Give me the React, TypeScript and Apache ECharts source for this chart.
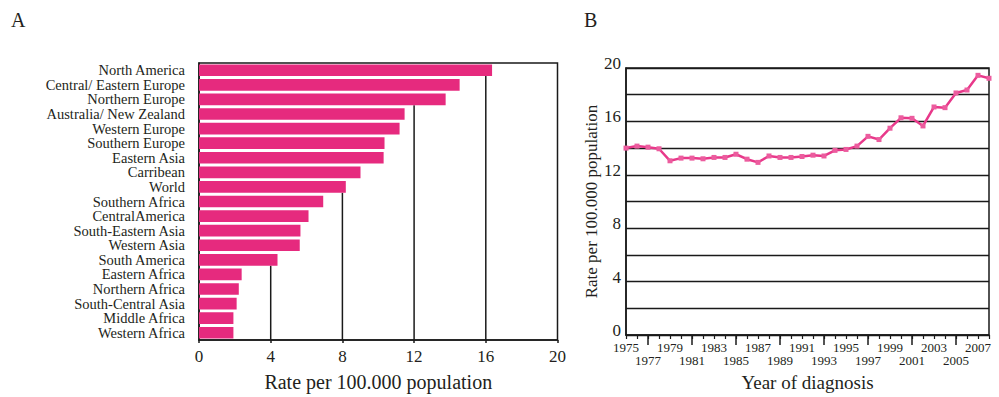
import React, { useEffect, useRef } from "react";
import * as echarts from "echarts";

// Panel A
const regions = [
  "North America", "Central/ Eastern Europe", "Northern Europe", "Australia/ New Zealand",
  "Western Europe", "Southern Europe", "Eastern Asia", "Carribean", "World",
  "Southern Africa", "CentralAmerica", "South-Eastern Asia", "Western Asia", "South America",
  "Eastern Africa", "Northern Africa", "South-Central Asia", "Middle Africa", "Western Africa",
];
const rates = [
  16.35, 14.54, 13.76, 11.47, 11.19, 10.35, 10.3, 9.01, 8.19,
  6.93, 6.11, 5.66, 5.62, 4.38, 2.38, 2.22, 2.1, 1.92, 1.92,
];
const rateTicks = [4, 8, 12, 16];

// Panel B
const years = [
  1975, 1976, 1977, 1978, 1979, 1980, 1981, 1982, 1983, 1984, 1985, 1986, 1987, 1988, 1989, 1990, 1991,
  1992, 1993, 1994, 1995, 1996, 1997, 1998, 1999, 2000, 2001, 2002, 2003, 2004, 2005, 2006, 2007, 2008,
];
const yearRates = [
  14.0, 14.15, 14.07, 13.95, 13.05, 13.25, 13.25, 13.2, 13.3, 13.3, 13.54, 13.17, 12.93, 13.41, 13.3, 13.3, 13.37,
  13.47, 13.41, 13.83, 13.9, 14.15, 14.88, 14.64, 15.49, 16.27, 16.23, 15.66, 17.08, 17.03, 18.13, 18.35, 19.45, 19.23,
];

const FONT = "Liberation Serif";
const TXT = "#231F20";
const LINE = "#1a1a1a";

export default function App() {
  const ref = useRef<HTMLDivElement>(null);
  useEffect(() => {
    if (!ref.current) return;
    const chart = echarts.init(ref.current, null, { renderer: "svg" });
    // gridline segments: from below the last bar exceeding the tick down to the axis
    const gridSegs = rateTicks.map((t) => {
      let idx = -1;
      rates.forEach((r, i) => { if (r > t) idx = i; });
      return [t, idx];
    });
    const yearLabels = years.map(String);
    chart.setOption({
      animation: false,
      backgroundColor: "#fff",
      textStyle: { fontFamily: FONT, color: TXT },
      graphic: [
        { type: "text", left: 11, top: 10, style: { text: "A", font: `20px ${FONT}`, fill: TXT } },
        { type: "text", left: 584, top: 10, style: { text: "B", font: `20px ${FONT}`, fill: TXT } },
      ],
      grid: [
        { left: 199, right: 441.5, top: 63, bottom: 52, show: true, borderColor: LINE, borderWidth: 1.5, backgroundColor: "transparent" },
        { left: 626, right: 10, top: 68, bottom: 58, show: true, borderColor: LINE, borderWidth: 1.5, backgroundColor: "transparent" },
      ],
      xAxis: [
        {
          type: "value", gridIndex: 0, min: 0, max: 20, interval: 4,
          axisLine: { show: true, lineStyle: { color: LINE, width: 1.5 } },
          axisTick: { show: true, length: 3, lineStyle: { color: LINE, width: 1.5 } },
          splitLine: { show: false },
          axisLabel: { fontFamily: FONT, fontSize: 17, color: TXT, margin: 8 },
          name: "Rate per 100.000 population", nameLocation: "middle", nameGap: 32,
          nameTextStyle: { fontFamily: FONT, fontSize: 20, color: TXT },
        },
        {
          type: "category", gridIndex: 1, data: yearLabels, boundaryGap: false, position: "bottom",
          axisLine: { show: true, lineStyle: { color: LINE, width: 1.5 } },
          axisTick: { show: true, length: 4, interval: 0, lineStyle: { color: LINE, width: 1.2 } },
          axisLabel: {
            fontFamily: FONT, fontSize: 13, lineHeight: 13, color: TXT, margin: 6,
            interval: (i: number) => i % 4 === 0,
          },
          name: "Year of diagnosis", nameLocation: "middle", nameGap: 38,
          nameTextStyle: { fontFamily: FONT, fontSize: 19, color: TXT },
        },
        {
          type: "category", gridIndex: 1, data: yearLabels, boundaryGap: false, position: "bottom",
          axisLine: { show: false },
          axisTick: { show: true, length: 10, interval: (i: number) => i % 4 === 2, lineStyle: { color: LINE, width: 1.5 } },
          axisLabel: {
            fontFamily: FONT, fontSize: 13, lineHeight: 13, color: TXT, margin: 19,
            interval: (i: number) => i % 4 === 2,
          },
        },
      ],
      yAxis: [
        {
          type: "category", gridIndex: 0, data: regions, inverse: true,
          axisLine: { show: true, lineStyle: { color: LINE, width: 1.5 } },
          axisTick: { show: false },
          axisLabel: { fontFamily: FONT, fontSize: 14.5, color: TXT, margin: 14, lineHeight: 14.5, interval: 0 },
        },
        {
          type: "value", gridIndex: 1, min: 0, max: 20, interval: 2,
          axisLine: { show: true, lineStyle: { color: LINE, width: 1.5 } },
          axisTick: { show: false },
          splitLine: { show: true, lineStyle: { color: LINE, width: 1.3 } },
          axisLabel: {
            fontFamily: FONT, fontSize: 17, lineHeight: 9, verticalAlign: "bottom", color: TXT, margin: 5,
            formatter: (v: number) => (v % 4 === 0 ? String(v) : ""),
          },
          name: "Rate per 100.000 population", nameLocation: "middle", nameGap: 16,
          nameTextStyle: { fontFamily: FONT, fontSize: 17, color: TXT },
        },
      ],
      series: [
        {
          type: "custom", xAxisIndex: 0, yAxisIndex: 0, z: 1, clip: false,
          encode: { x: 0, y: 1 },
          data: gridSegs,
          renderItem: (_p: any, api: any) => {
            const t = api.value(0);
            const idx = api.value(1);
            const band = api.size([0, 1])[1];
            const top = api.coord([t, idx]);
            const bottom = api.coord([t, regions.length - 1]);
            return {
              type: "line",
              shape: { x1: top[0], y1: top[1] + band * 0.4, x2: top[0], y2: bottom[1] + band / 2 },
              style: { stroke: LINE, lineWidth: 1.5 },
            };
          },
        },
        {
          type: "bar", xAxisIndex: 0, yAxisIndex: 0, z: 2, data: rates,
          barCategoryGap: "20%",
          itemStyle: { color: "#E62A7E" },
        },
        {
          type: "line", xAxisIndex: 1, yAxisIndex: 1, data: yearRates, z: 3,
          symbol: "rect", symbolSize: 5,
          lineStyle: { color: "#E8388A", width: 2.5 },
          itemStyle: { color: "#EC5C9E" },
        },
      ],
    });
    return () => chart.dispose();
  }, []);
  return <div ref={ref} style={{ position: "fixed", left: 0, top: 0, width: 999, height: 397 }} />;
}
